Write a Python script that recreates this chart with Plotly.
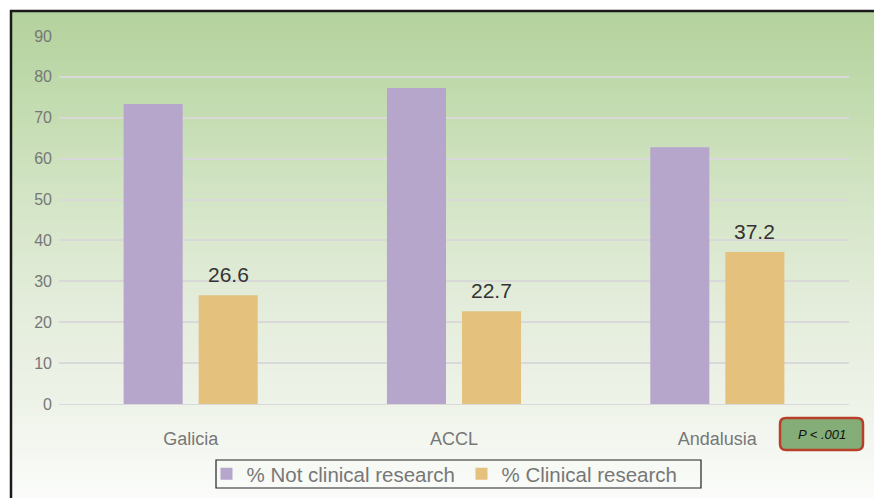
import plotly.graph_objects as go

categories = ["Galicia", "ACCL", "Andalusia"]
not_clinical = [73.4, 77.3, 62.8]
clinical = [26.6, 22.7, 37.2]
y_ticks = [0, 10, 20, 30, 40, 50, 60, 70, 80, 90]
series_names = ["% Not clinical research", "% Clinical research"]
p_label = "P < .001"

W, H = 874, 498
L, R, T, B = 59, 25, 36, 94
PW, PH = W - L - R, H - T - B

def px(x):
    return (x - L) / PW

def py(y):
    return (H - B - y) / PH

FONT = "Liberation Sans, Arial, sans-serif"

fig = go.Figure()
fig.add_trace(go.Bar(
    x=categories, y=not_clinical, name=series_names[0],
    marker=dict(color="#b6a6cc", line=dict(width=0)),
))
fig.add_trace(go.Bar(
    x=categories, y=clinical, name=series_names[1],
    marker=dict(color="#e5c17e", line=dict(width=0)),
))

# background gradient
stops = [(11, (180, 210, 157)), (36, (183, 212, 161)), (100, (194, 219, 175)),
         (200, (212, 229, 198)), (300, (227, 236, 218)), (404, (238, 243, 233)),
         (498, (251, 252, 250))]

def col(y):
    for (y0, c0), (y1, c1) in zip(stops[:-1], stops[1:]):
        if y0 <= y <= y1:
            t = (y - y0) / (y1 - y0)
            return "rgb(%d,%d,%d)" % tuple(round(a + (b - a) * t) for a, b in zip(c0, c1))
    return "rgb(%d,%d,%d)" % stops[-1][1]

shapes = []
step = 3
yy = 11
while yy < H:
    shapes.append(dict(type="rect", xref="paper", yref="paper",
                       x0=px(11), x1=px(W + 5), y0=py(yy), y1=py(min(yy + step + 0.5, H + 5)),
                       fillcolor=col(yy + step / 2), line=dict(width=0), layer="below"))
    yy += step
# frame
shapes.append(dict(type="line", xref="paper", yref="paper", x0=px(10), x1=px(W + 5),
                   y0=py(11), y1=py(11), line=dict(color="#1a1a1a", width=2.5)))
shapes.append(dict(type="line", xref="paper", yref="paper", x0=px(11), x1=px(11),
                   y0=py(10), y1=py(H + 5), line=dict(color="#1a1a1a", width=2.5)))
# legend box
shapes.append(dict(type="rect", xref="paper", yref="paper", x0=px(216), x1=px(701),
                   y0=py(460), y1=py(488), line=dict(color="#222222", width=1.2),
                   fillcolor="rgba(0,0,0,0)"))

# rounded P box
x0, x1, y0, y1, r = 780, 863, 418, 450, 6
path = (f"M {px(x0 + r)},{py(y0)} L {px(x1 - r)},{py(y0)} Q {px(x1)},{py(y0)} {px(x1)},{py(y0 + r)} "
        f"L {px(x1)},{py(y1 - r)} Q {px(x1)},{py(y1)} {px(x1 - r)},{py(y1)} "
        f"L {px(x0 + r)},{py(y1)} Q {px(x0)},{py(y1)} {px(x0)},{py(y1 - r)} "
        f"L {px(x0)},{py(y0 + r)} Q {px(x0)},{py(y0)} {px(x0 + r)},{py(y0)} Z")
shapes.append(dict(type="path", xref="paper", yref="paper", path=path,
                   fillcolor="#84ad78", line=dict(color="#b8402a", width=2.5)))

annotations = [dict(text=f"<i>{p_label}</i>", xref="paper", yref="paper",
                    x=px(821.5), y=py(434), xanchor="center", yanchor="middle",
                    showarrow=False, font=dict(size=13, color="#111111", family=FONT))]
for cat, v in zip(categories, clinical):
    annotations.append(dict(text=f"{v:.1f}", x=cat, y=v, xref="x", yref="y",
                            xanchor="center", yanchor="bottom", xshift=37.5, yshift=7,
                            showarrow=False,
                            font=dict(size=21, color="#333333", family=FONT)))

fig.update_layout(
    width=W, height=H,
    margin=dict(l=L, r=R, t=T, b=B, pad=0, autoexpand=False),
    paper_bgcolor="white", plot_bgcolor="rgba(0,0,0,0)",
    barmode="group", bargap=0.43, bargroupgap=0.213,
    font=dict(family=FONT, color="#777777"),
    shapes=shapes,
    showlegend=True,
    legend=dict(orientation="h", x=px(461.5), xanchor="center", y=py(474), yanchor="middle",
                bgcolor="rgba(0,0,0,0)", borderwidth=0,
                font=dict(size=20.5, color="#777777", family=FONT),
                itemwidth=30, tracegroupgap=0, entrywidth=210),
    annotations=annotations,
)
fig.update_yaxes(range=[0, 90], tickvals=y_ticks, showgrid=True, gridcolor="#d9d9d9",
                 gridwidth=2, zeroline=True, zerolinecolor="#d9d9d9", zerolinewidth=1,
                 showline=False, tickfont=dict(size=16, color="#777777"),
                 ticklabelstandoff=6)
fig.update_xaxes(showline=False, showgrid=False, tickfont=dict(size=18, color="#777777"),
                 ticklabelstandoff=22)

fig.write_html("out.html")
